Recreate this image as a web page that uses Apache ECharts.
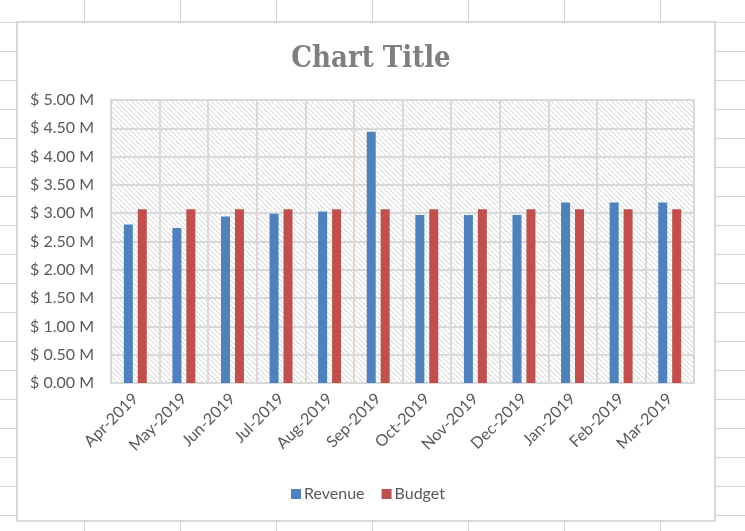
<!DOCTYPE html>
<html>
<head>
<meta charset="utf-8">
<script src="https://cdn.jsdelivr.net/npm/echarts@6/dist/echarts.min.js"></script>
<style>
html, body { margin: 0; padding: 0; }
body {
  width: 745px; height: 531px; overflow: hidden;
  background-color: #ffffff;
  background-image:
    linear-gradient(to right, #d4d4d4 1px, transparent 1px),
    linear-gradient(to bottom, #d4d4d4 1px, transparent 1px);
  background-size: 96px 29px, 96px 29px;
  background-position: 84px 0, 0 22px;
}
#chart { width: 745px; height: 531px; position: absolute; left: 0; top: 0; }
</style>
</head>
<body>
<div id="chart"></div>
<script>
const categories = ['Apr-2019','May-2019','Jun-2019','Jul-2019','Aug-2019','Sep-2019','Oct-2019','Nov-2019','Dec-2019','Jan-2019','Feb-2019','Mar-2019'];
const revenue = [2.80, 2.74, 2.94, 2.99, 3.03, 4.44, 2.97, 2.97, 2.97, 3.19, 3.19, 3.19];
const budget = [3.07, 3.07, 3.07, 3.07, 3.07, 3.07, 3.07, 3.07, 3.07, 3.07, 3.07, 3.07];
const yTicks = { min: 0, max: 5, interval: 0.5 };

// hatch pattern tile for plot area
function makeHatch() {
  const n = 5;
  const c = document.createElement('canvas');
  c.width = n; c.height = n;
  const ctx = c.getContext('2d');
  const img = ctx.createImageData(n, n);
  for (let y = 0; y < n; y++) {
    for (let x = 0; x < n; x++) {
      const d = ((x - y) % n + n) % n;
      let v = 255;
      if (d === 0) v = 220; else if (d === 1) v = 240;
      const i = (y * n + x) * 4;
      img.data[i] = v; img.data[i+1] = v; img.data[i+2] = v; img.data[i+3] = 255;
    }
  }
  ctx.putImageData(img, 0, 0);
  return c;
}

const chart = echarts.init(document.getElementById('chart'), null, { renderer: 'canvas' });
const gridColor = '#d9d9d9';
const textColor = '#595959';
const font = 'Lato, "Open Sans", sans-serif';

chart.setOption({
  backgroundColor: 'transparent',
  animation: false,
  graphic: [{
    type: 'rect', z: -100, silent: true,
    shape: { x: 17, y: 22, width: 698, height: 499 },
    style: { fill: '#ffffff', stroke: '#d9d9d9', lineWidth: 2 }
  }],
  title: {
    text: 'Chart Title',
    left: 366, top: 40, textAlign: 'center',
    textStyle: { fontFamily: '"DejaVu Serif Condensed", "Liberation Serif", serif', fontWeight: 'bold', fontSize: 29, color: '#7f7f7f' }
  },
  legend: {
    data: ['Revenue', 'Budget'],
    left: 286, top: 481,
    itemWidth: 10, itemHeight: 10, itemGap: 17,
    icon: 'rect',
    textStyle: { fontFamily: font, fontSize: 16, color: textColor, padding: [0, 0, 0, -2] }
  },
  grid: {
    left: 111, top: 100, right: 51, bottom: 148,
    show: true,
    backgroundColor: { image: makeHatch(), repeat: 'repeat' },
    borderColor: gridColor, borderWidth: 2
  },
  xAxis: {
    type: 'category',
    data: categories,
    axisTick: { show: false },
    axisLine: { lineStyle: { color: gridColor, width: 2 } },
    splitLine: { show: true, interval: 0, lineStyle: { color: gridColor, width: 2 } },
    axisLabel: { interval: 0, rotate: 45, margin: 13, fontFamily: font, fontSize: 16, color: textColor }
  },
  yAxis: {
    type: 'value',
    min: yTicks.min, max: yTicks.max, interval: yTicks.interval,
    axisLine: { show: false },
    axisTick: { show: false },
    splitLine: { lineStyle: { color: gridColor, width: 2 } },
    axisLabel: {
      margin: 17, fontFamily: font, fontSize: 16, color: textColor,
      formatter: v => '$ ' + v.toFixed(2) + ' M'
    }
  },
  series: [
    { name: 'Revenue', type: 'bar', data: revenue, barWidth: 9, barGap: '55%', itemStyle: { color: '#4f81bd' } },
    { name: 'Budget', type: 'bar', data: budget, barWidth: 9, barGap: '55%', itemStyle: { color: '#c0504d' } }
  ]
});
</script>
</body>
</html>
